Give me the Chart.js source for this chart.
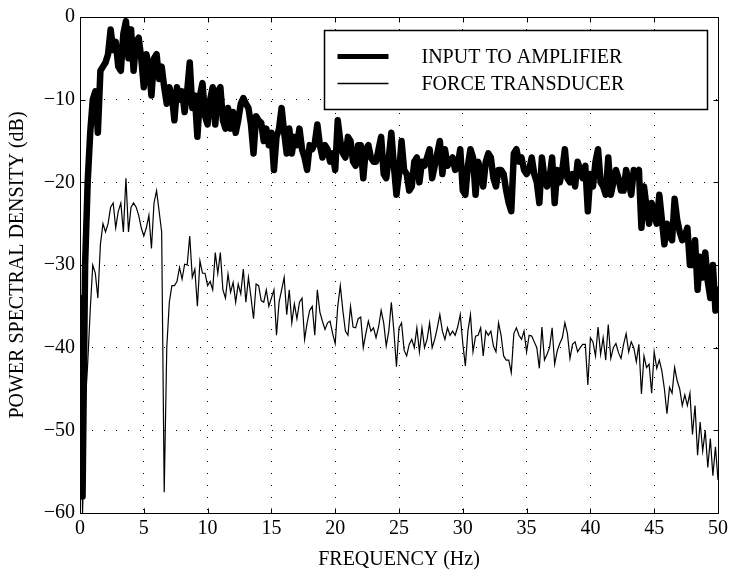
<!DOCTYPE html>
<html>
<head>
<meta charset="utf-8">
<script src="https://cdn.jsdelivr.net/npm/chart.js@4"></script>
<style>
  body { margin: 0; background: #fff; }
</style>
</head>
<body>
<canvas id="chart" width="732" height="578"></canvas>
<script>
// frequency bins, 0.2 Hz apart, 0 .. 50 Hz
var binHz = 0.2;
var freqHz = [];
for (var i = 0; i <= 250; i++) freqHz.push(+(i * binHz).toFixed(1));

// INPUT TO AMPLIFIER (dB)
var inputPsd = [
  -34, -58, -30, -20, -14, -10, -9, -14, -6.5, -6,
  -5.5, -4.5, -1.5, -4, -3, -6, -6.5, -2, -0.5, -5,
  -1.5, -6.5, -3, -2.5, -5, -8.5, -4.5, -6, -9.5, -5,
  -4.5, -7.5, -6, -8.5, -10.5, -8.5, -9.5, -12.5, -8.5, -10,
  -9, -11.5, -9, -5.5, -11, -9.5, -14.5, -9.5, -8, -12,
  -13, -10, -8.5, -13, -9, -8.5, -12.5, -13.5, -11, -13.5,
  -11.5,
  -14, -12.5, -10.5, -9.8, -10.5, -11, -13, -16.5, -12, -12.5,
  -12.8, -15, -13.5, -15.5, -14, -18.5, -14.5, -13.5, -11, -14,
  -16.5, -13.5, -16.5, -14.5, -15.5, -13.5, -16, -17, -18.5, -15.5,
  -16, -15.3, -13, -15.5, -17, -15.5, -16, -17.5, -16.5, -18.5,
  -12.5, -15, -16.5, -17, -14.5, -15, -17.5, -18, -15.5, -15.5,
  -19.5, -16, -15.5, -17, -17.5,
  -17.5, -16, -14.5, -19, -19.5, -17, -14, -18, -21.5, -19,
  -15, -18.5, -19, -21, -20.5, -17.5, -17, -20, -17.5, -18,
  -17, -16, -19.5, -18, -16.5, -15, -19, -16, -18, -17.5,
  -17, -18.5, -18, -16, -21, -21.5, -18, -16, -17, -21.5,
  -17.5, -18.5, -20.5, -17.5, -16.5, -17, -19.5, -20.5, -18.5, -18.5,
  -19, -21, -22.5, -23.5, -16.5, -16, -17.5, -17, -18.5, -19,
  -18.5, -17, -19, -20, -22.5, -17, -19.5, -20.5, -19.5, -17,
  -22.5, -18.5, -20, -18.5, -16, -19.5, -20, -19, -20.5, -17.5,
  -18.5, -19.5, -18, -23.5, -19, -20.5, -17.5, -16, -20, -20.5,
  -21.5, -17, -21.5, -20, -18.5, -19.5, -21, -21, -18.5, -20,
  -21.5, -18.5, -19, -18.5, -25.5, -20.5, -23, -25, -22.5, -24,
  -25, -21.5, -24.5, -27.5, -25, -26.5, -27, -22, -24.5, -26,
  -27, -26.5, -25.5, -30, -30, -27, -33,
  -29, -31.5, -28.5, -32, -34, -30, -35.5, -33
];

// FORCE TRANSDUCER (dB)
var forcePsd = [
  -36, -60, -47, -42, -35.5, -30, -31, -34, -27.5, -25,
  -26, -25, -23, -22.5, -25.5, -23.5, -22.5, -26, -19.5, -26,
  -23, -22.5, -23, -24, -25.5, -26.5, -25.5, -24, -28, -22.5,
  -21, -23.5, -26, -57.5, -40, -34.5, -32.5, -32.5, -32, -30.3,
  -31.7, -29.9, -30, -26.5, -31.5, -30.5, -35, -29.5, -31, -31,
  -32.5, -32, -33, -28.5, -31, -28.5, -33, -34, -31.1, -33.3,
  -32.1,
  -34.5, -32.3, -33.5, -30.5, -34.5, -31.5, -33.9, -36.5, -32.3, -32.5,
  -34.3, -34.5, -33, -35, -34, -33, -38.5, -34.5, -33, -31.5,
  -36, -33, -37, -34.7, -36.5, -34.5, -34, -39, -37, -35.5,
  -35, -38.5, -33, -35.7, -36.8, -37.8, -37, -36.8, -38.3, -39.5,
  -35, -32.5, -35.5, -38, -38.5, -35, -37.5, -37.6, -36.5, -36.3,
  -40, -38.3, -36.8, -38, -37.6,
  -38.8, -37.5, -35.5, -37, -39.8, -38, -34.5, -38, -42.3, -37.6,
  -37, -40.3, -41, -39.6, -39, -40, -37.6, -40.5, -37.6, -40,
  -39, -37, -40, -39, -37.6, -36, -38, -39, -37.6, -38.5,
  -38, -38.5, -37.5, -36, -39.5, -42.2, -38, -36, -40.5, -38.6,
  -38.5, -37.6, -41, -38, -38.5, -38, -39.8, -40.5, -37, -38.5,
  -41, -41.5, -41.5, -43, -38.3, -37.6, -38.5, -39, -38, -40.5,
  -38.5, -38.6, -39.3, -40, -42.5, -37.5, -41.5, -40.8, -40, -37.6,
  -42, -40.4, -39.5, -38.8, -37, -38.3, -41.3, -39.6, -39.3, -40.5,
  -40, -39.6, -39.6, -44.5, -38.8, -39.3, -41, -37.5, -40.8, -38.8,
  -41.5, -37.2, -41.3, -40, -39.5, -40.6, -41.3, -39.6, -38.3, -40.5,
  -39.3, -40, -41.7, -39.6, -45.6, -41, -42.4, -42, -45.5, -40.5,
  -42.5, -41.5, -42.8, -45, -48, -44.8, -45.5, -42.4, -44, -45,
  -47, -45.7, -47, -45.5, -50.5, -47, -53,
  -49, -52.5, -50, -54.5, -51, -55.5, -52, -56
];

var xTicks = [0, 5, 10, 15, 20, 25, 30, 35, 40, 45, 50];
var yTicks = [0, -10, -20, -30, -40, -50, -60];

var serif = "'Liberation Serif', 'Times New Roman', serif";

function points(vals) {
  return vals.map(function(v, i){ return {x: freqHz[i], y: v}; });
}

// box round the plot, with short inward ticks on every side
var frame = {
  id: 'frame',
  afterDatasetsDraw: function(chart) {
    var ctx = chart.ctx, a = chart.chartArea;
    var xs = chart.scales.x, ys = chart.scales.y;
    var L = Math.round(a.left) + 0.5, R = Math.round(a.right) + 0.5;
    var T = Math.round(a.top) + 0.5, B = Math.round(a.bottom) + 0.5;
    ctx.save();
    ctx.strokeStyle = '#000';
    ctx.lineWidth = 1;
    ctx.beginPath();
    ctx.rect(L, T, R - L, B - T);
    xTicks.forEach(function(t){
      var p = Math.round(xs.getPixelForValue(t)) + 0.5;
      ctx.moveTo(p, B); ctx.lineTo(p, B - 5);
      ctx.moveTo(p, T); ctx.lineTo(p, T + 5);
    });
    yTicks.forEach(function(t){
      var p = Math.round(ys.getPixelForValue(t)) + 0.5;
      ctx.moveTo(L, p); ctx.lineTo(L + 5, p);
      ctx.moveTo(R, p); ctx.lineTo(R - 5, p);
    });
    ctx.stroke();
    ctx.restore();
  }
};

// legend box in the upper right of the plot
var boxLegend = {
  id: 'boxLegend',
  afterDraw: function(chart) {
    var ctx = chart.ctx, a = chart.chartArea;
    var w = 383, h = 79;
    var x0 = Math.round(a.right - 11 - w) + 0.5, y0 = Math.round(a.top + 13) + 0.5;
    ctx.save();
    ctx.fillStyle = '#fff';
    ctx.fillRect(x0, y0, w, h);
    ctx.strokeStyle = '#000';
    ctx.lineWidth = 1.5;
    ctx.strokeRect(x0, y0, w, h);
    chart.data.datasets.forEach(function(ds, i){
      var y = y0 + 26 + i * 27;
      ctx.lineWidth = i === 0 ? 5 : 1.3;
      ctx.lineCap = 'butt';
      ctx.beginPath();
      ctx.moveTo(x0 + 13, y);
      ctx.lineTo(x0 + 64, y);
      ctx.stroke();
      ctx.fillStyle = '#000';
      ctx.font = '20px ' + serif;
      ctx.textBaseline = 'middle';
      ctx.textAlign = 'left';
      ctx.fillText(ds.label, x0 + 97, y + 1);
    });
    ctx.restore();
  }
};

var ctx = document.getElementById('chart');

var chart = new Chart(ctx, {
  type: 'line',
  data: {
    datasets: [
      {
        label: 'INPUT TO AMPLIFIER',
        data: points(inputPsd),
        borderColor: '#000',
        borderWidth: 6.5,
        borderJoinStyle: 'round',
        borderCapStyle: 'round',
        pointRadius: 0,
        tension: 0,
        fill: false
      },
      {
        label: 'FORCE TRANSDUCER',
        data: points(forcePsd),
        borderColor: '#000',
        borderWidth: 1.2,
        pointRadius: 0,
        tension: 0,
        fill: false
      }
    ]
  },
  options: {
    responsive: false,
    animation: false,
    devicePixelRatio: 1,
    layout: { padding: { top: 15, right: 13, left: 0, bottom: 0 } },
    plugins: {
      legend: { display: false },
      tooltip: { enabled: false }
    },
    scales: {
      x: {
        type: 'linear',
        min: 0,
        max: 50,
        afterFit: function(s){ s.height = 65; },
        afterBuildTicks: function(s){ s.ticks = xTicks.map(function(v){ return {value: v}; }); },
        ticks: {
          color: '#000',
          font: { family: serif, size: 20 },
          padding: 4,
          maxRotation: 0,
          autoSkip: false
        },
        grid: { color: '#000', lineWidth: 1, drawTicks: false },
        border: { display: false, dash: [1, 11] },
        title: {
          display: true,
          text: 'FREQUENCY (Hz)',
          color: '#000',
          font: { family: serif, size: 20 },
          padding: { top: 0, bottom: 6 }
        }
      },
      y: {
        min: -60,
        max: 0,
        afterFit: function(s){ s.width = 80; },
        afterBuildTicks: function(s){ s.ticks = yTicks.map(function(v){ return {value: v}; }); },
        ticks: {
          color: '#000',
          font: { family: serif, size: 20 },
          padding: 5,
          callback: function(v){ return v < 0 ? '\u2212' + Math.abs(v) : String(v); }
        },
        grid: { color: '#000', lineWidth: 1, drawTicks: false },
        border: { display: false, dash: [1, 11] },
        title: {
          display: true,
          text: 'POWER SPECTRAL DENSITY (dB)',
          color: '#000',
          font: { family: serif, size: 20 },
          padding: { top: 6, bottom: 0 }
        }
      }
    }
  },
  plugins: [frame, boxLegend]
});
</script>
</body>
</html>
